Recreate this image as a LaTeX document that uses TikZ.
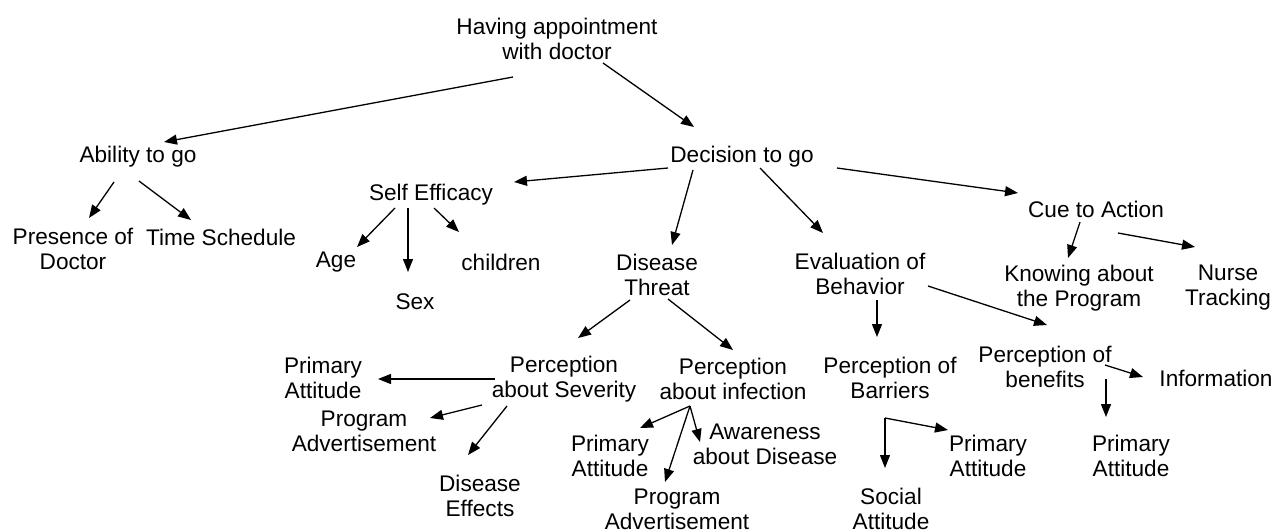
\documentclass[tikz,border=0pt]{standalone}
\usepackage{fontspec}
\setmainfont{Liberation Sans}
\usetikzlibrary{arrows.meta}

\begin{document}
\begin{tikzpicture}[
    x=1pt, y=-1pt,
    term/.style={align=center, inner sep=0pt, font=\fontsize{22.6}{25}\selectfont},
    arrow/.style={line width=1.3pt, -{Triangle[length=13pt, width=10pt]}}
]
\useasboundingbox [fill=white] (0,0) rectangle (1273,530);

% Root and first level
\node [term] (having) at (557,39) {Having appointment\\with doctor};
\node [term] (ability) at (138,157) {Ability to go};
\node [term] (decision) at (742,157) {Decision to go};

% Ability branch
\node [term] (presence) at (73,249) {Presence of\\Doctor};
\node [term] (timesch) at (221,237) {Time Schedule};

% Decision branch
\node [term] (selfeff) at (431,195) {Self Efficacy};
\node [term] (age) at (336,262) {Age};
\node [term] (sex) at (415,302) {Sex};
\node [term] (children) at (501,262) {children};
\node [term] (threat) at (657,275) {Disease\\Threat};
\node [term] (evalbeh) at (860,274) {Evaluation of\\Behavior};
\node [term] (cue) at (1096,209) {Cue to Action};
\node [term] (knowing) at (1079,288) {Knowing about\\the Program};
\node [term] (nurse) at (1228,288) {Nurse\\Tracking};

% Disease threat branch
\node [term] (severity) at (564,379) {Perception\\about Severity};
\node [term] (infection) at (733,379) {Perception\\about infection};
\node [term] (primA) at (323,378) {Primary\\Attitude};
\node [term] (progA) at (364,431) {Program\\Advertisement};
\node [term] (effects) at (480,496) {Disease\\Effects};
\node [term] (primB) at (610,456) {Primary\\Attitude};
\node [term] (awareness) at (765,444) {Awareness\\about Disease};
\node [term] (progB) at (677,509) {Program\\Advertisement};

% Evaluation branch
\node [term] (barriers) at (890,378) {Perception of\\Barriers};
\node [term] (benefits) at (1045,367) {Perception of\\benefits};
\node [term] (information) at (1216,378) {Information};
\node [term] (primC) at (988,456) {Primary\\Attitude};
\node [term] (social) at (891,509) {Social\\Attitude};
\node [term] (primD) at (1131,456) {Primary\\Attitude};

% Arrows from the root
\draw [arrow] ([shift={(-44,38)}]having.center) -- ([shift={(26,-15)}]ability.center);
\draw [arrow] ([shift={(46,24)}]having.center) -- ([shift={(-48,-30)}]decision.center);

% Ability arrows
\draw [arrow] ([shift={(-24,25)}]ability.center) -- ([shift={(16,-31)}]presence.center);
\draw [arrow] ([shift={(1,24)}]ability.center) -- ([shift={(-30,-17)}]timesch.center);

% Decision arrows
\draw [arrow] ([shift={(-74,11)}]decision.center) -- ([shift={(83,-13)}]selfeff.center);
\draw [arrow] ([shift={(-49,13)}]decision.center) -- ([shift={(15,-30)}]threat.center);
\draw [arrow] ([shift={(18,11)}]decision.center) -- ([shift={(-37,-41)}]evalbeh.center);
\draw [arrow] ([shift={(95,11)}]decision.center) -- ([shift={(-78,-16)}]cue.center);

% Self efficacy arrows
\draw [arrow] ([shift={(-36,13)}]selfeff.center) -- ([shift={(21,-15)}]age.center);
\draw [arrow] ([shift={(-23,13)}]selfeff.center) -- ([shift={(-7,-30)}]sex.center);
\draw [arrow] ([shift={(3,13)}]selfeff.center) -- ([shift={(-42,-30)}]children.center);

% Cue to action arrows
\draw [arrow] ([shift={(-16,13)}]cue.center) -- ([shift={(-11,-30)}]knowing.center);
\draw [arrow] ([shift={(22,24)}]cue.center) -- ([shift={(-33,-41)}]nurse.center);

% Disease threat arrows
\draw [arrow] ([shift={(-27,25)}]threat.center) -- ([shift={(14,-41)}]severity.center);
\draw [arrow] ([shift={(11,24)}]threat.center) -- ([shift={(0,-29)}]infection.center);

% Evaluation arrows
\draw [arrow] ([shift={(17,26)}]evalbeh.center) -- ([shift={(-13,-41)}]barriers.center);
\draw [arrow] ([shift={(68,12)}]evalbeh.center) -- ([shift={(2,-42)}]benefits.center);

% Severity arrows
\draw [arrow] ([shift={(-69,0)}]severity.center) -- ([shift={(55,1)}]primA.center);
\draw [arrow] ([shift={(-82,26)}]severity.center) -- ([shift={(66,-13)}]progA.center);
\draw [arrow] ([shift={(-57,27)}]severity.center) -- ([shift={(-12,-41)}]effects.center);

% Infection arrows
\draw [arrow] ([shift={(-43,27)}]infection.center) -- ([shift={(30,-28)}]primB.center);
\draw [arrow] ([shift={(-43,27)}]infection.center) -- ([shift={(-12,-27)}]progB.center);
\draw [arrow] ([shift={(-43,27)}]infection.center) -- ([shift={(-65,-2)}]awareness.center);

% Barriers arrows
\draw [arrow] ([shift={(-5,40)}]barriers.center) -- ([shift={(-6,-41)}]social.center);
\draw [arrow] ([shift={(-5,40)}]barriers.center) -- ([shift={(-40,-26)}]primC.center);

% Benefits arrows
\draw [arrow] ([shift={(60,-2)}]benefits.center) -- ([shift={(-73,-1)}]information.center);
\draw [arrow] ([shift={(61,12)}]benefits.center) -- ([shift={(-25,-39)}]primD.center);

\end{tikzpicture}
\end{document}
